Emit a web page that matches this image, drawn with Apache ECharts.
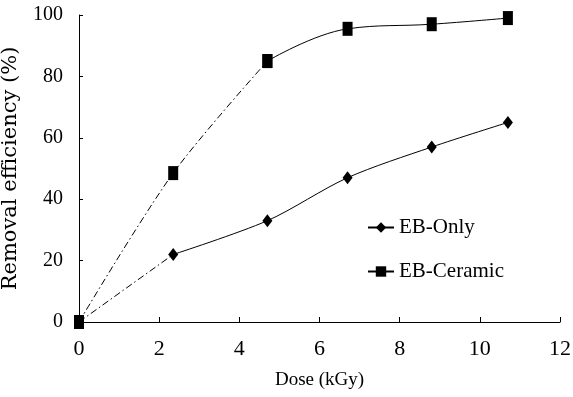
<!DOCTYPE html>
<html><head><meta charset="utf-8">
<script src="https://cdn.jsdelivr.net/npm/echarts@6/dist/echarts.min.js"></script>
<style>html,body{margin:0;padding:0;background:#fff}#c{width:573px;height:397px}</style>
</head><body><div id="c"></div>
<script>
const dose = [0, 2.35, 4.7, 6.7, 8.8, 10.7];
const ebOnly = [0, 22, 33, 47, 57, 65];
const ebCeramic = [0, 48.5, 85, 95.5, 97, 99];
const xTicks = [0, 2, 4, 6, 8, 10, 12];
const yTicks = [0, 20, 40, 60, 80, 100];

const pairs = (xs, ys) => xs.map((x, i) => [x, ys[i]]);
const font = '"Liberation Serif", "DejaVu Serif", serif';
const font2 = '"DejaVu Serif", "Liberation Serif", serif';
const dashDot = [7, 3, 1.5, 3];

const chart = echarts.init(document.getElementById('c'), null, {renderer: 'canvas'});
chart.setOption({
  animation: false,
  backgroundColor: '#fff',
  grid: {left: 79, right: 13, top: 15, bottom: 75, containLabel: false, outerBoundsMode: 'none'},
  legend: {
    orient: 'vertical', left: 362, top: 212, itemGap: 23,
    itemWidth: 26, itemHeight: 13,
    textStyle: {fontFamily: font, fontSize: 21, color: '#000'},
    data: ['EB-Only', 'EB-Ceramic']
  },
  xAxis: {
    type: 'value', min: 0, max: 12, interval: 2,
    name: 'Dose (kGy)', nameLocation: 'middle', nameGap: 49,
    nameTextStyle: {fontFamily: font, fontSize: 19, color: '#000'},
    axisLine: {lineStyle: {color: '#000', width: 1}},
    axisTick: {inside: true, length: 5, lineStyle: {color: '#000'}},
    axisLabel: {fontFamily: font, fontSize: 22, color: '#000', margin: 16,
      formatter: v => xTicks.includes(v) ? String(v) : ''},
    splitLine: {show: false}
  },
  yAxis: {
    type: 'value', min: 0, max: 100, interval: 20,
    name: 'Removal efficiency (%)', nameLocation: 'middle', nameGap: 58,
    nameTextStyle: {fontFamily: font2, fontSize: 21, color: '#000'},
    axisLine: {show: true, lineStyle: {color: '#000', width: 1}},
    axisTick: {show: true, inside: true, length: 4, lineStyle: {color: '#000'}},
    axisLabel: {fontFamily: font, fontSize: 20, color: '#000', margin: 16,
      formatter: v => yTicks.includes(v) ? String(v) : ''},
    splitLine: {show: false}
  },
  series: [
    {
      name: 'EB-Only', type: 'line', smooth: 0.3,
      data: pairs(dose, ebOnly).slice(1),
      symbol: 'diamond', symbolSize: [10, 13],
      itemStyle: {color: '#000'},
      lineStyle: {color: '#000', width: 1}
    },
    {
      name: 'EB-Only-start', type: 'line', smooth: false,
      data: pairs(dose, ebOnly).slice(0, 2),
      symbol: 'none',
      lineStyle: {color: '#000', width: 1, type: dashDot}
    },
    {
      name: 'EB-Ceramic', type: 'line', smooth: 0.4,
      data: pairs(dose, ebCeramic).slice(2),
      symbol: 'rect', symbolSize: [10, 14],
      itemStyle: {color: '#000'},
      lineStyle: {color: '#000', width: 1}
    },
    {
      name: 'EB-Ceramic-start', type: 'line', smooth: 0.3,
      data: pairs(dose, ebCeramic).slice(0, 3),
      symbol: 'rect', symbolSize: [10, 14],
      itemStyle: {color: '#000'},
      lineStyle: {color: '#000', width: 1, type: dashDot}
    }
  ]
});
</script></body></html>
